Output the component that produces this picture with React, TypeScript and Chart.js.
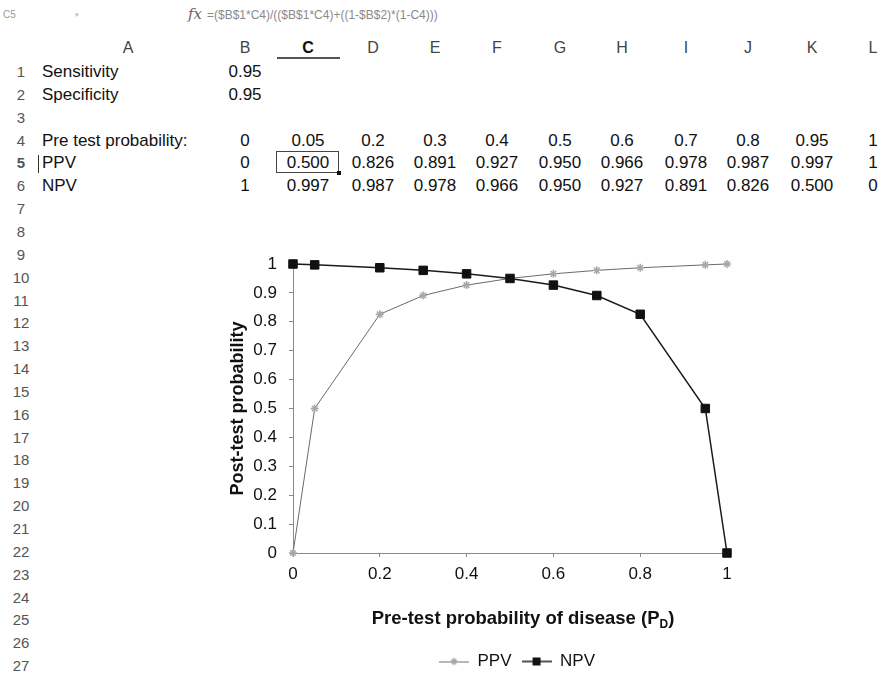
import React, { useEffect, useRef } from "react";
import { Chart, registerables } from "chart.js";

Chart.register(...registerables);

// ---------- data ----------
const pretestProbability = [0, 0.05, 0.2, 0.3, 0.4, 0.5, 0.6, 0.7, 0.8, 0.95, 1];
const ppvValues = [0, 0.5, 0.826, 0.891, 0.927, 0.95, 0.966, 0.978, 0.987, 0.997, 1];
const npvValues = [1, 0.997, 0.987, 0.978, 0.966, 0.95, 0.927, 0.891, 0.826, 0.5, 0];
const seriesNames = ["PPV", "NPV"];
const inputLabels = ["Sensitivity", "Specificity"];
const inputValues = [0.95, 0.95];
const tableRowLabels = ["Pre test probability:", "PPV", "NPV"];
const columnLetters = ["A", "B", "C", "D", "E", "F", "G", "H", "I", "J", "K", "L"];
const rowCount = 27;
const cellRef = "C5";
const formulaText = "=($B$1*C4)/(($B$1*C4)+((1-$B$2)*(1-C4)))";
const yAxisTitle = "Post-test probability";
const xAxisTitleMain = "Pre-test probability of disease (P";
const xAxisTitleSub = "D";
const xAxisTitleEnd = ")";

// ---------- layout ----------
const FONT = '"Liberation Sans", Arial, Helvetica, sans-serif';
const colCenters = [128, 245, 308, 373, 435, 497, 560, 622, 686, 748, 812, 873];
const rowY = (n: number) => 72 + (n - 1) * 22.85;
const headerY = 48;
const labelLeft = 42;
const CANVAS_LEFT = 200;
const CANVAS_TOP = 240;
const CANVAS_W = 634;
const CANVAS_H = 440;

const fmtCell = (v: number, decimals: number) =>
  v === 0 || v === 1 ? String(v) : v.toFixed(decimals);

function makeLegendIcon(kind: "ppv" | "npv") {
  const c = document.createElement("canvas");
  c.width = 30;
  c.height = 12;
  const ctx = c.getContext("2d")!;
  const cy = 6;
  if (kind === "ppv") {
    ctx.strokeStyle = "#6e6e6e";
    ctx.lineWidth = 1;
    ctx.beginPath();
    ctx.moveTo(0, cy + 0.5);
    ctx.lineTo(30, cy + 0.5);
    ctx.stroke();
    ctx.strokeStyle = "#a8a8a8";
    ctx.lineWidth = 1.5;
    const r = 3.5;
    ctx.beginPath();
    ctx.moveTo(15 - r, cy);
    ctx.lineTo(15 + r, cy);
    ctx.moveTo(15, cy - r);
    ctx.lineTo(15, cy + r);
    ctx.moveTo(15 - r * 0.7, cy - r * 0.7);
    ctx.lineTo(15 + r * 0.7, cy + r * 0.7);
    ctx.moveTo(15 - r * 0.7, cy + r * 0.7);
    ctx.lineTo(15 + r * 0.7, cy - r * 0.7);
    ctx.stroke();
  } else {
    ctx.strokeStyle = "#1a1a1a";
    ctx.lineWidth = 1.5;
    ctx.beginPath();
    ctx.moveTo(0, cy);
    ctx.lineTo(30, cy);
    ctx.stroke();
    ctx.fillStyle = "#111";
    ctx.fillRect(11, cy - 4, 8, 8);
  }
  return c;
}

function PPVChart() {
  const ref = useRef<HTMLCanvasElement | null>(null);
  useEffect(() => {
    if (!ref.current) return;
    const icons = [makeLegendIcon("ppv"), makeLegendIcon("npv")];
    const axisColor = "#8a8a8a";
    const tickFont = { family: FONT, size: 17 };
    const chart = new Chart(ref.current, {
      type: "scatter",
      data: {
        datasets: [
          {
            label: seriesNames[0],
            data: pretestProbability.map((x, i) => ({ x, y: ppvValues[i] })),
            showLine: true,
            borderColor: "#6a6a6a",
            borderWidth: 1,
            pointStyle: "star",
            pointRadius: 4,
            pointBorderColor: "#a8a8a8",
            pointBackgroundColor: "#a8a8a8",
            pointBorderWidth: 1.5,
            clip: false,
            order: 1,
          },
          {
            label: seriesNames[1],
            data: pretestProbability.map((x, i) => ({ x, y: npvValues[i] })),
            showLine: true,
            borderColor: "#1a1a1a",
            borderWidth: 1.5,
            pointStyle: "rect",
            pointRadius: 6,
            pointBorderColor: "#111",
            pointBackgroundColor: "#111",
            pointBorderWidth: 1,
            clip: false,
            order: 0,
          },
        ],
      },
      options: {
        animation: false,
        responsive: false,
        layout: { padding: { top: 24, right: 0, left: 0, bottom: 0 } },
        plugins: {
          tooltip: { enabled: false },
          legend: {
            position: "bottom",
            labels: {
              usePointStyle: true,
              pointStyleWidth: 30,
              padding: 10,
              color: "#111",
              font: { family: FONT, size: 17 },
              generateLabels: () =>
                seriesNames.map((name, i) => ({
                  text: name,
                  pointStyle: icons[i] as any,
                  fillStyle: "rgba(0,0,0,0)",
                  strokeStyle: "rgba(0,0,0,0)",
                  lineWidth: 0,
                  hidden: false,
                  datasetIndex: i,
                  fontColor: "#111",
                })),
            },
          },
        },
        scales: {
          x: {
            type: "linear",
            min: 0,
            max: 1,
            ticks: {
              stepSize: 0.2,
              padding: 7,
              color: "#111",
              font: tickFont,
              maxRotation: 0,
              autoSkip: false,
              callback: (v: any) => String(Number(Number(v).toFixed(2))),
            },
            grid: { drawOnChartArea: false, drawTicks: true, tickLength: 4, color: axisColor },
            border: { color: axisColor, width: 1 },
            afterFit: (s: any) => {
              s.height = 90;
            },
          },
          y: {
            type: "linear",
            min: 0,
            max: 1,
            ticks: {
              stepSize: 0.1,
              padding: 12,
              color: "#111",
              font: tickFont,
              autoSkip: false,
              callback: (v: any) => String(Number(Number(v).toFixed(2))),
            },
            grid: { drawOnChartArea: false, drawTicks: true, tickLength: 4, color: axisColor },
            border: { color: axisColor, width: 1 },
            title: {
              display: true,
              text: yAxisTitle,
              color: "#111",
              font: { family: FONT, size: 18, weight: "bold" },
              padding: { top: 27, bottom: 0 },
            },
            afterFit: (s: any) => {
              s.width = 93;
            },
          },
          // empty right-hand spacer so the legend stays centred under the whole chart box
          spacer: {
            type: "linear",
            position: "right",
            min: 0,
            max: 1,
            ticks: { display: false },
            grid: { display: false },
            border: { display: false },
            afterFit: (s: any) => {
              s.width = CANVAS_W - 527;
            },
          },
        },
      } as any,
    });
    return () => chart.destroy();
  }, []);
  return (
    <canvas
      ref={ref}
      width={CANVAS_W}
      height={CANVAS_H}
      style={{ position: "absolute", left: CANVAS_LEFT, top: CANVAS_TOP, width: CANVAS_W, height: CANVAS_H }}
    />
  );
}

const txt = (
  key: string,
  text: React.ReactNode,
  x: number,
  y: number,
  opts: { align?: "left" | "center"; size?: number; color?: string; bold?: boolean; italic?: boolean; family?: string } = {}
) => (
  <div
    key={key}
    style={{
      position: "absolute",
      left: x,
      top: y - 11,
      height: 22,
      lineHeight: "22px",
      whiteSpace: "nowrap",
      transform: opts.align === "center" ? "translateX(-50%)" : undefined,
      fontSize: opts.size ?? 17,
      color: opts.color ?? "#111",
      fontWeight: opts.bold ? "bold" : "normal",
      fontStyle: opts.italic ? "italic" : "normal",
      fontFamily: opts.family ?? FONT,
    }}
  >
    {text}
  </div>
);

export default function App() {
  const items: React.ReactNode[] = [];
  // formula bar
  items.push(txt("ref", cellRef, 3, 15, { size: 10, color: "#9a9a9a" }));
  items.push(txt("dd", "▾", 75, 15, { size: 7, color: "#bbb" }));
  items.push(txt("fx", "fx", 188, 14, { size: 15, color: "#666", italic: true, family: '"DejaVu Serif", "Liberation Serif", serif' }));
  items.push(txt("formula", formulaText, 207, 15, { size: 12, color: "#8a8a8a" }));
  // column headers
  columnLetters.forEach((c, i) =>
    items.push(txt("col" + c, c, colCenters[i], headerY, { align: "center", size: 16, color: c === "C" ? "#111" : "#444", bold: c === "C" }))
  );
  // row numbers
  for (let r = 1; r <= rowCount; r++) {
    items.push(txt("row" + r, String(r), 21, rowY(r), { align: "center", size: 15, color: "#555", bold: r === 5 }));
  }
  // inputs
  inputLabels.forEach((l, i) => {
    items.push(txt("inl" + i, l, labelLeft, rowY(i + 1)));
    items.push(txt("inv" + i, String(inputValues[i]), colCenters[1], rowY(i + 1), { align: "center" }));
  });
  // table rows
  const tableRows = [
    pretestProbability.map((v) => String(v)),
    ppvValues.map((v) => fmtCell(v, 3)),
    npvValues.map((v) => fmtCell(v, 3)),
  ];
  tableRowLabels.forEach((l, ri) => {
    items.push(txt("tl" + ri, l, labelLeft, rowY(ri + 4)));
    tableRows[ri].forEach((s, ci) =>
      items.push(txt(`tv${ri}-${ci}`, s, colCenters[ci + 1], rowY(ri + 4), { align: "center" }))
    );
  });

  return (
    <div
      style={{
        position: "absolute",
        left: 0,
        top: 0,
        width: 881,
        height: 674,
        overflow: "hidden",
        background: "#fff",
        fontFamily: FONT,
      }}
    >
      {items}
      {/* selected column underline */}
      <div style={{ position: "absolute", left: 277, top: 57, width: 63, height: 2, background: "#555" }} />
      {/* selected cell box */}
      <div
        style={{
          position: "absolute",
          left: 276,
          top: 151,
          width: 63,
          height: 22,
          border: "1px solid #444",
          boxSizing: "border-box",
        }}
      />
      <div style={{ position: "absolute", left: 337, top: 171, width: 4, height: 4, background: "#111" }} />
      {/* text cursor */}
      <div style={{ position: "absolute", left: 38, top: 155, width: 1, height: 18, background: "#333" }} />
      <PPVChart />
      {/* x axis title with subscript */}
      <div
        style={{
          position: "absolute",
          left: 523,
          top: 607,
          transform: "translateX(-50%)",
          whiteSpace: "nowrap",
          fontSize: 18.5,
          fontWeight: "bold",
          color: "#111",
          lineHeight: "22px",
          fontFamily: FONT,
        }}
      >
        {xAxisTitleMain}
        <sub style={{ fontSize: 12, verticalAlign: "-4px" }}>{xAxisTitleSub}</sub>
        {xAxisTitleEnd}
      </div>
    </div>
  );
}
